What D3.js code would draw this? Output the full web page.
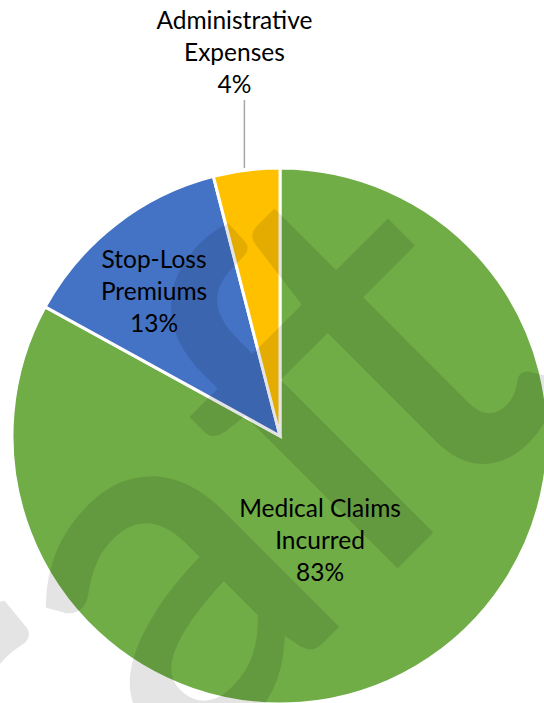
<!DOCTYPE html>
<html>
<head>
<meta charset="utf-8">
<script src="https://cdn.jsdelivr.net/npm/d3@7"></script>
<style>
  html, body { margin: 0; padding: 0; background: #fff; }
  svg { display: block; }
</style>
</head>
<body>
<div id="chart"></div>
<script>
const WIDTH = 544;
const HEIGHT = 703;
const RADIUS = 268;
const FONT = 'Lato, "Open Sans", sans-serif';

// chart data, clockwise from 12 o'clock
const categories = ['Medical Claims Incurred', 'Stop-Loss Premiums', 'Administrative Expenses'];
const labelLines = [['Medical Claims', 'Incurred'], ['Stop-Loss', 'Premiums'], ['Administrative', 'Expenses']];
const values = [83, 13, 4];
const colors = ['#70AD47', '#4472C4', '#FFC000'];

const svg = d3.select('#chart')
              .append('svg')
              .attr('width', WIDTH)
              .attr('height', HEIGHT);

const g = svg.append('g')
             .attr('transform', 'translate(280, 436)');

const pie = d3.pie().sort(null).value(d => d);
const arcs = pie(values);

const arc = d3.arc().innerRadius(0).outerRadius(RADIUS);

// slices
g.selectAll('path.slice')
 .data(arcs)
 .enter()
 .append('path')
 .attr('class', 'slice')
 .attr('d', arc)
 .attr('fill', (d, i) => colors[i])
 .attr('stroke', '#fff')
 .attr('stroke-width', 3)
 .attr('stroke-linejoin', 'miter');

const total = d3.sum(values);
const pct = v => Math.round(v / total * 100) + '%';

// label placement: radius fraction and a sideways nudge (Excel "best fit")
const labelRadius = [0.44, 0.70, 1.0];
const labelShift = [-20, -11, 0];
const labelDrop = [12, 12, 0];
const LINE_H = 32;

arcs.forEach((d, i) => {
  const lines = labelLines[i].concat([pct(d.value)]);
  if (i < 2) {
    const la = d3.arc().innerRadius(RADIUS * labelRadius[i]).outerRadius(RADIUS * labelRadius[i]);
    const [x, y] = la.centroid(d);
    const t = g.append('text')
               .attr('text-anchor', 'middle')
               .attr('font-family', FONT)
               .attr('font-size', 24.5)
               .attr('fill', '#000');
    lines.forEach((s, k) => {
      t.append('tspan')
       .attr('x', x + labelShift[i])
       .attr('y', y + (k - 1) * LINE_H + labelDrop[i])
       .text(s);
    });
  } else {
    // outside label with a leader line going straight up
    const edge = d3.arc().innerRadius(RADIUS).outerRadius(RADIUS).centroid(d);
    const lx = edge[0] - 2;
    const top = -RADIUS - 68;
    g.append('line')
     .attr('x1', lx).attr('y1', -RADIUS)
     .attr('x2', lx).attr('y2', top)
     .attr('stroke', '#A6A6A6')
     .attr('stroke-width', 1.5);
    const t = g.append('text')
               .attr('text-anchor', 'middle')
               .attr('font-family', FONT)
               .attr('font-size', 24.5)
               .attr('fill', '#000');
    lines.forEach((s, k) => {
      t.append('tspan')
       .attr('x', lx - 10)
       .attr('y', top - 7 - (lines.length - 1 - k) * LINE_H)
       .text(s);
    });
  }
});

// "Draft" watermark laid over the whole picture, one glyph at a time
// (in the rotated frame: x runs along the diagonal, y is the baseline)
const WM_LETTERS = ['D', 'r', 'a', 'f', 't'];
const WM_CENTERS = [-763, -512, -298, -82, 38];
const WM_BASELINE = 680;

const wm = svg.append('g')
              .attr('opacity', 0.1)
              .attr('transform', 'rotate(-45)');

wm.selectAll('text')
  .data(WM_LETTERS)
  .enter()
  .append('text')
  .attr('x', (d, i) => WM_CENTERS[i])
  .attr('y', WM_BASELINE)
  .attr('text-anchor', 'middle')
  .attr('font-family', FONT)
  .attr('font-size', 500)
  .attr('fill', '#000')
  .attr('stroke', '#000')
  .attr('stroke-width', 6)
  .text(d => d);
</script>
</body>
</html>
